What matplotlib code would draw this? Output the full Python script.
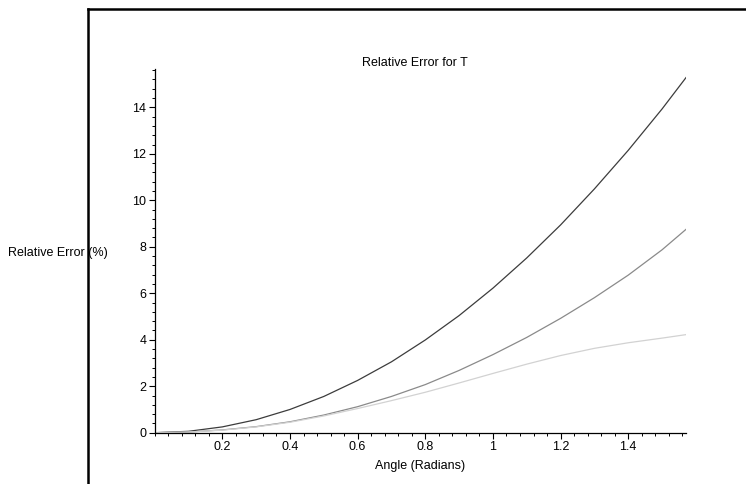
import numpy as np
import matplotlib
matplotlib.use("Agg")
import matplotlib.pyplot as plt
from matplotlib.ticker import MultipleLocator, FixedLocator
from matplotlib.lines import Line2D

plt.rcParams['font.family'] = ['Liberation Sans', 'DejaVu Sans']

# Data
angle = [0.0, 0.1, 0.2, 0.3, 0.4, 0.5, 0.6, 0.7, 0.8, 0.9, 1.0,
         1.1, 1.2, 1.3, 1.4, 1.5, 1.5708]
err_dark = [0.0, 0.06, 0.25, 0.56, 1.00, 1.56, 2.25, 3.05, 3.99, 5.04, 6.22,
            7.52, 8.94, 10.49, 12.15, 13.93, 15.28]
err_mid = [0.0, 0.03, 0.12, 0.26, 0.47, 0.76, 1.12, 1.56, 2.07, 2.68, 3.36,
           4.10, 4.92, 5.81, 6.78, 7.87, 8.75]
err_light = [0.0, 0.03, 0.11, 0.25, 0.45, 0.72, 1.04, 1.38, 1.74, 2.14, 2.55,
             2.95, 3.32, 3.63, 3.87, 4.07, 4.22]

x_ticks = [0.2, 0.4, 0.6, 0.8, 1.0, 1.2, 1.4]
x_tick_labels = ["0.2", "0.4", "0.6", "0.8", "1", "1.2", "1.4"]
y_ticks = [0, 2, 4, 6, 8, 10, 12, 14]

W, H = 746, 484
fig = plt.figure(figsize=(W / 100, H / 100), dpi=100)
ax = fig.add_axes([154.7 / W, 1 - 432.7 / H, (686 - 154.7) / W, (432.7 - 69) / H])

ax.plot(angle, err_dark, color='#3c3c3c', lw=0.9)
ax.plot(angle, err_mid, color='#8a8a8a', lw=0.9)
ax.plot(angle, err_light, color='#d2d2d2', lw=0.9)

ax.set_xlim(0, 1.5708)
ax.set_ylim(0, 15.65)

for s in ['top', 'right']:
    ax.spines[s].set_visible(False)
for s in ['left', 'bottom']:
    ax.spines[s].set_linewidth(0.9)
    ax.spines[s].set_color('black')

ax.xaxis.set_major_locator(FixedLocator(x_ticks))
ax.set_xticklabels(x_tick_labels)
ax.xaxis.set_minor_locator(MultipleLocator(0.04))
ax.yaxis.set_major_locator(FixedLocator(y_ticks))
ax.set_yticklabels([str(v) for v in y_ticks])
ax.yaxis.set_minor_locator(MultipleLocator(0.4))

ax.tick_params(axis='both', which='major', direction='out', length=4, width=0.8,
               labelsize=9, pad=2)
ax.tick_params(axis='both', which='minor', direction='out', length=2, width=0.7)

fig.text(415 / W, 1 - 62.7 / H, "Relative Error for T", ha='center', va='center', fontsize=9)
fig.text(420 / W, 1 - 466 / H, "Angle (Radians)", ha='center', va='center', fontsize=9)
fig.text(8 / W, 1 - 253 / H, "Relative Error (%)", ha='left', va='center', fontsize=9)

# outer frame (partially visible)
fig.add_artist(Line2D([88 / W, 88 / W], [0, 1 - 9 / H], transform=fig.transFigure,
                      color='black', lw=1.8, solid_capstyle='projecting'))
fig.add_artist(Line2D([88 / W, 1], [1 - 9 / H, 1 - 9 / H], transform=fig.transFigure,
                      color='black', lw=1.8, solid_capstyle='projecting'))

fig.savefig("out.png", dpi=100)
